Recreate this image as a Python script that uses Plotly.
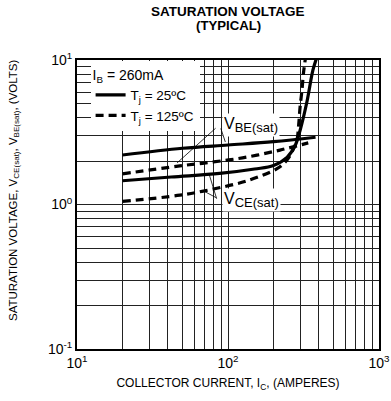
import numpy as np
import plotly.graph_objects as go

# ---- data ----
ic_vbe_25 = [20, 50, 100, 200, 380]
vbe_25 = [2.2, 2.45, 2.58, 2.72, 2.92]

ic_vbe_125 = [20, 48, 80, 134, 221, 340]
vbe_125 = [1.63, 1.85, 1.97, 2.13, 2.38, 2.67]

ic_vce_25 = [20, 42, 88, 150, 200, 246, 278, 300, 334, 365, 392]
vce_25 = [1.46, 1.55, 1.64, 1.76, 1.86, 2.12, 2.55, 3.25, 5.2, 8.5, 10.8]

ic_vce_125 = [20, 48, 80, 134, 211, 246, 269, 286, 294, 300, 309, 316, 328]
vce_125 = [1.05, 1.16, 1.28, 1.46, 1.77, 2.03, 2.38, 2.79, 3.6, 4.7, 6.2, 8.1, 10.8]

x_decades = [10, 100, 1000]
y_decades = [0.1, 1, 10]
x_ticktext = ["10<sup>1</sup>", "10<sup>2</sup>", "10<sup>3</sup>"]
y_ticktext = ["10<sup>-1</sup>", "10<sup>0</sup>", "10<sup>1</sup>"]

FONT = "Liberation Sans, Arial, sans-serif"


def minor_vals(decades):
    vals = []
    for d in decades[:-1]:
        for m in range(2, 10):
            vals.append(d * m)
    return vals


fig = go.Figure()
solid = dict(color="black", width=3.2, shape="spline")
dashed = dict(color="black", width=3.2, dash="8px,5px", shape="spline")

fig.add_trace(go.Scatter(x=ic_vbe_25, y=vbe_25, mode="lines", line=solid,
                         name="T<sub>j</sub> = 25ºC", legendgroup="25", showlegend=True))
fig.add_trace(go.Scatter(x=ic_vce_25, y=vce_25, mode="lines", line=solid,
                         name="T<sub>j</sub> = 25ºC", legendgroup="25", showlegend=False))
fig.add_trace(go.Scatter(x=ic_vbe_125, y=vbe_125, mode="lines", line=dashed,
                         name="T<sub>j</sub> = 125ºC", legendgroup="125", showlegend=True))
fig.add_trace(go.Scatter(x=ic_vce_125, y=vce_125, mode="lines", line=dashed,
                         name="T<sub>j</sub> = 125ºC", legendgroup="125", showlegend=False))

axis_common = dict(type="log", showgrid=True, gridcolor="#222", gridwidth=1,
                   showline=True, linecolor="black", linewidth=2, mirror=True,
                   ticks="", zeroline=False, automargin=False,
                   tickfont=dict(family=FONT, size=14, color="black"))

fig.update_xaxes(range=[1, 3], tickmode="array", tickvals=x_decades, ticktext=x_ticktext,
                 minor=dict(tickmode="array", tickvals=minor_vals(x_decades), showgrid=True,
                            gridcolor="#222", gridwidth=1, ticks=""),
                 title=dict(text="COLLECTOR CURRENT, I<sub>C</sub>, (AMPERES)",
                            font=dict(family=FONT, size=12, color="black"), standoff=9),
                 **axis_common)
fig.update_yaxes(range=[-1, 1], tickmode="array", tickvals=y_decades, ticktext=y_ticktext,
                 minor=dict(tickmode="array", tickvals=minor_vals(y_decades), showgrid=True,
                            gridcolor="#222", gridwidth=1, ticks=""),
                 **axis_common)

ann_font = dict(family=FONT, size=16, color="black")
sub = "<sub><span style='font-size:13px'>%s</span></sub>"
anns = [
    # title
    dict(xref="paper", yref="paper", x=0.5, y=(349 - 11) / 289, yanchor="middle",
         text="<b>SATURATION VOLTAGE</b>", showarrow=False,
         font=dict(family=FONT, size=13.5, color="black")),
    dict(xref="paper", yref="paper", x=0.5, y=(349 - 26) / 289, yanchor="middle",
         text="<b>(TYPICAL)</b>", showarrow=False,
         font=dict(family=FONT, size=13.2, color="black")),
    # y-axis title
    dict(xref="paper", yref="paper", x=(14 - 77) / 302, y=(349 - 190) / 289,
         xanchor="center", yanchor="middle", textangle=-90, showarrow=False,
         text="SATURATION VOLTAGE, V<sub>CE(sat)</sub>, V<sub>BE(sat)</sub>, (VOLTS)",
         font=dict(family=FONT, size=11.5, color="black")),
    # curve labels
    dict(x=np.log10(91), y=np.log10(3.55), text="V" + sub % "BE(sat)", showarrow=False,
         bgcolor="white", font=ann_font, xanchor="left", borderpad=1),
    dict(x=np.log10(91), y=np.log10(1.07), text="V" + sub % "CE(sat)", showarrow=False,
         bgcolor="white", font=ann_font, xanchor="left", borderpad=1),
    # leader lines
    dict(x=np.log10(46), y=np.log10(1.94), text="", showarrow=True, arrowhead=0,
         arrowwidth=0.8, arrowcolor="black", ax=40, ay=-36),
    dict(x=np.log10(96), y=np.log10(2.71), text="", showarrow=True, arrowhead=0,
         arrowwidth=0.8, arrowcolor="black", ax=-5, ay=-15),
    dict(x=np.log10(75), y=np.log10(1.62), text="", showarrow=True, arrowhead=0,
         arrowwidth=0.8, arrowcolor="black", ax=8, ay=26),
    dict(x=np.log10(68), y=np.log10(1.25), text="", showarrow=True, arrowhead=0,
         arrowwidth=0.8, arrowcolor="black", ax=15, ay=8),
]

fig.update_layout(
    width=391, height=401,
    margin=dict(l=77, r=12, t=60, b=52, autoexpand=False),
    paper_bgcolor="white", plot_bgcolor="white",
    font=dict(family=FONT, color="black"),
    legend=dict(x=0.045, y=0.995, xanchor="left", yanchor="top",
                bgcolor="white", borderwidth=0,
                title=dict(text="I<sub>B</sub> = 260mA", font=dict(family=FONT, size=14)),
                font=dict(family=FONT, size=13.5, color="black"),
                tracegroupgap=0, itemwidth=30),
    annotations=anns,
)

fig.write_html("out.html")
